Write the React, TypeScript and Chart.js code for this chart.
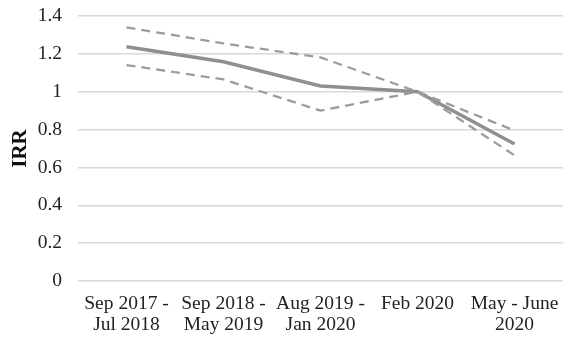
import React, { useEffect, useRef } from "react";
import { Chart, registerables } from "chart.js";

Chart.register(...registerables);

const categories: (string | string[])[] = [
  ["Sep 2017 -", "Jul 2018"],
  ["Sep 2018 -", "May 2019"],
  ["Aug 2019 -", "Jan 2020"],
  "Feb 2020",
  ["May - June", "2020"],
];
const irr = [1.238, 1.158, 1.03, 1.0, 0.724];
const upperCI = [1.34, 1.255, 1.181, 1.0, 0.795];
const lowerCI = [1.141, 1.065, 0.9, 1.0, 0.664];
const yTicks = [0, 0.2, 0.4, 0.6, 0.8, 1, 1.2, 1.4];

export default function App() {
  const ref = useRef<HTMLCanvasElement>(null);
  useEffect(() => {
    document.body.style.margin = "0";
    const ctx = ref.current!;
    const family = "'Liberation Serif', 'Times New Roman', serif";
    const font = { family, size: 19.5, lineHeight: 1.08 };
    const chart = new Chart(ctx, {
      type: "line",
      data: {
        labels: categories,
        datasets: [
          {
            label: "Upper",
            data: upperCI,
            borderColor: "#9c9c9c",
            borderWidth: 2.3,
            borderDash: [9, 6],
            pointRadius: 0,
            tension: 0,
            fill: false,
          },
          {
            label: "Lower",
            data: lowerCI,
            borderColor: "#9c9c9c",
            borderWidth: 2.3,
            borderDash: [9, 6],
            pointRadius: 0,
            tension: 0,
            fill: false,
          },
          {
            label: "IRR",
            data: irr,
            borderColor: "#8f8f8f",
            borderWidth: 3.5,
            pointRadius: 0,
            tension: 0,
            fill: false,
          },
        ],
      },
      options: {
        animation: false,
        responsive: false,
        maintainAspectRatio: false,
        layout: { padding: { left: 0, right: 1, top: 16, bottom: 0 } },
        plugins: { legend: { display: false }, tooltip: { enabled: false } },
        scales: {
          x: {
            type: "category",
            offset: true,
            grid: { display: false, drawTicks: false },
            border: { display: false },
            ticks: { color: "#222", font, padding: 12, maxRotation: 0, autoSkip: false },
            afterFit: (s: any) => {
              s.height = 58;
              s.paddingLeft = 0;
              s.paddingRight = 0;
            },
          },
          y: {
            min: 0,
            max: 1.4,
            afterBuildTicks: (s: any) => {
              s.ticks = yTicks.map((v) => ({ value: v }));
            },
            grid: { color: "#d9d9d9", lineWidth: 1.5, drawTicks: false },
            border: { display: false },
            ticks: { color: "#222", font, padding: 16, callback: (v: any) => String(Math.round(Number(v) * 10) / 10) },
            title: {
              display: true,
              text: "IRR",
              color: "#111",
              font: { family, size: 21, weight: "bold", lineHeight: 1.2 },
              padding: { top: 8, bottom: 0 },
            },
            afterFit: (s: any) => {
              s.width = 78;
              s.paddingTop = 0;
              s.paddingBottom = 0;
            },
          },
        },
      },
    } as any);
    return () => chart.destroy();
  }, []);
  return (
    <div style={{ position: "fixed", left: 0, top: 0, width: 564, height: 339, background: "#fff" }}>
      <canvas ref={ref} width={564} height={339} style={{ width: 564, height: 339 }} />
    </div>
  );
}
